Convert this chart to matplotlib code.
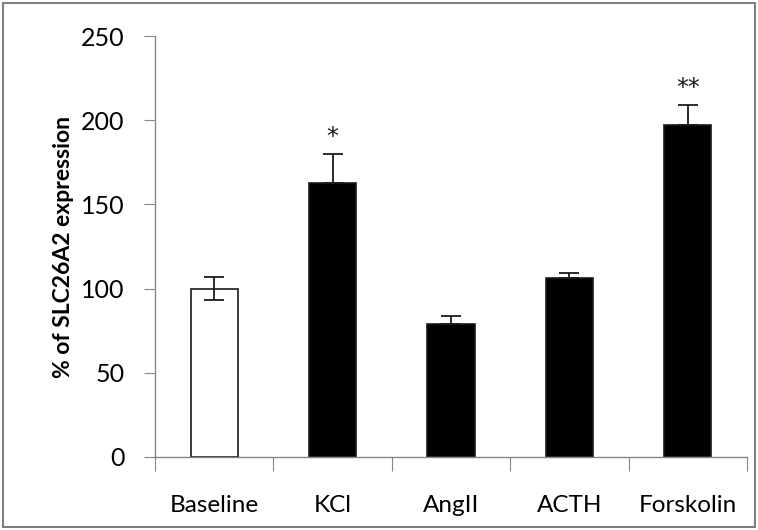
import matplotlib
matplotlib.use("Agg")
import matplotlib.pyplot as plt
from matplotlib.patches import Rectangle

plt.rcParams["font.family"] = ["Lato", "DejaVu Sans"]

CATEGORIES = ["Baseline", "KCl", "AngII", "ACTH", "Forskolin"]
VALUES = [100, 163, 79, 106, 197]
ERR_UP = [7, 17, 5, 3, 12]
ERR_DOWN = [7, 0, 0, 0, 0]
STARS = ["", "*", "", "", "**"]
FACE = ["white", "black", "black", "black", "black"]

AXIS_GRAY = "#868686"

fig = plt.figure(figsize=(7.58, 5.30), dpi=100)
ax = fig.add_axes([155 / 758, 1 - 457 / 530, (747 - 155) / 758, (457 - 36) / 530])

x = range(len(CATEGORIES))
ax.bar(x, VALUES, width=0.4, color=FACE, edgecolor="#1a1a1a", linewidth=1.2, zorder=2)
ax.errorbar(x, VALUES, yerr=[ERR_DOWN, ERR_UP], fmt="none", ecolor="#1a1a1a",
            elinewidth=1.3, capsize=7, capthick=1.3, zorder=3)
for i, s in enumerate(STARS):
    if s:
        ax.text(i, VALUES[i] + ERR_UP[i] + 10, s, ha="center", va="center",
                fontsize=17, color="#1a1a1a", family="DejaVu Sans")

ax.set_xlim(-0.5, len(CATEGORIES) - 0.5)
ax.set_ylim(0, 250)
ax.set_yticks(range(0, 251, 50))
ax.set_xticks([i - 0.5 for i in range(len(CATEGORIES) + 1)], minor=False)
ax.set_xticklabels([])
ax.set_xticks(list(x), minor=True)
ax.set_xticklabels(CATEGORIES, minor=True, fontsize=17.5)
ax.tick_params(axis="x", which="major", direction="out", length=10, color=AXIS_GRAY)
ax.tick_params(axis="x", which="minor", length=0, pad=27)
ax.tick_params(axis="y", direction="out", length=8, color=AXIS_GRAY,
               labelsize=18, pad=14)

for side in ["top", "right"]:
    ax.spines[side].set_visible(False)
for side in ["left", "bottom"]:
    ax.spines[side].set_color(AXIS_GRAY)
    ax.spines[side].set_linewidth(1.0)

ax.set_ylabel("% of SLC26A2 expression", fontsize=16.5, fontweight="bold", labelpad=5)

fig.patches.append(Rectangle((3 / 758, 3 / 530), 752 / 758, 524 / 530,
                             transform=fig.transFigure, fill=False,
                             edgecolor="#7f7f7f", linewidth=1.5))

fig.savefig("out.png", dpi=100)
